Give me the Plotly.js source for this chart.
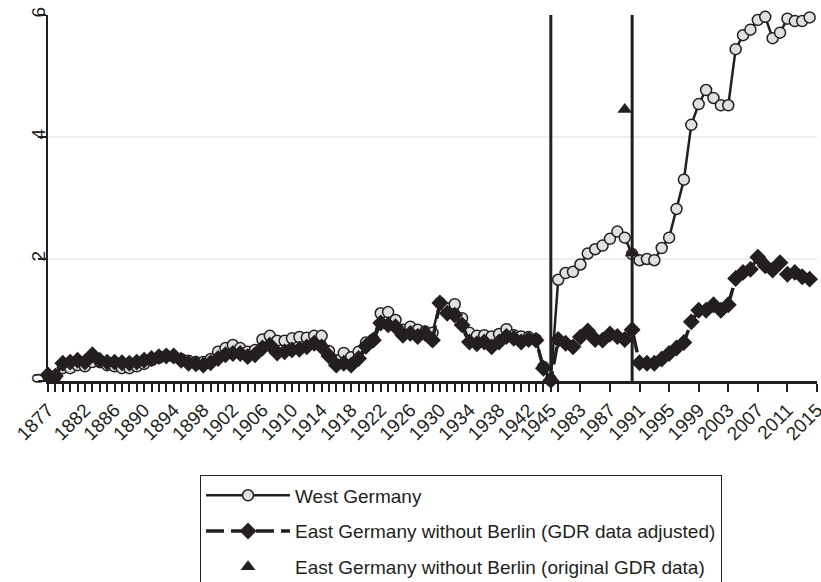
<!DOCTYPE html>
<html><head><meta charset="utf-8">
<script src="https://cdn.plot.ly/plotly-3.0.1.min.js"></script>
<style>html,body{margin:0;padding:0;background:#fff;overflow:hidden}#chart{width:821px;height:600px}</style>
</head><body><div id="chart"></div>
<script>
// Categories: yearly 1877-1945, then 1980-2015 (gap collapsed)
const years = [
 '1877','1878','1879','1880','1881','1882','1883','1884','1885','1886',
 '1887','1888','1889','1890','1891','1892','1893','1894','1895','1896',
 '1897','1898','1899','1900','1901','1902','1903','1904','1905','1906',
 '1907','1908','1909','1910','1911','1912','1913','1914','1915','1916',
 '1917','1918','1919','1920','1921','1922','1923','1924','1925','1926',
 '1927','1928','1929','1930','1931','1932','1933','1934','1935','1936',
 '1937','1938','1939','1940','1941','1942','1943','1944','1945',
 '1980','1981','1982','1983','1984','1985','1986','1987','1988','1989',
 '1990','1991','1992','1993','1994','1995','1996','1997','1998','1999',
 '2000','2001','2002','2003','2004','2005','2006','2007','2008','2009',
 '2010','2011','2012','2013','2014','2015'];

const westGermany = [
 0.08,0.07,0.21,0.21,0.26,0.24,0.31,0.31,0.26,0.24,
 0.21,0.21,0.24,0.28,0.34,0.38,0.41,0.40,0.36,0.33,
 0.31,0.31,0.36,0.48,0.54,0.59,0.54,0.48,0.51,0.68,
 0.74,0.66,0.66,0.70,0.72,0.71,0.74,0.74,0.49,0.34,
 0.46,0.39,0.48,0.63,0.68,1.11,1.13,1.00,0.84,0.89,
 0.84,0.81,0.79,1.28,1.19,1.26,1.03,0.79,0.74,0.75,
 0.73,0.77,0.85,0.75,0.73,0.72,0.68,0.23,0.02,
 1.66,1.77,1.79,1.91,2.09,2.16,2.22,2.33,2.45,2.35,
 2.08,1.98,2.00,1.98,2.18,2.35,2.82,3.30,4.20,4.54,
 4.77,4.64,4.52,4.52,5.44,5.67,5.76,5.92,5.97,5.62,
 5.71,5.94,5.90,5.90,5.96,null];

const eastAdjusted = [
 0.10,0.08,0.29,0.31,0.34,0.31,0.43,0.34,0.31,0.31,
 0.30,0.29,0.31,0.34,0.37,0.40,0.41,0.41,0.34,0.29,
 0.28,0.26,0.30,0.37,0.43,0.45,0.45,0.40,0.43,0.54,
 0.59,0.46,0.48,0.51,0.52,0.56,0.62,0.56,0.41,0.26,
 0.29,0.26,0.37,0.57,0.67,0.95,0.92,0.89,0.75,0.78,
 0.73,0.78,0.67,1.28,1.11,1.08,0.92,0.64,0.61,0.64,
 0.56,0.64,0.73,0.70,0.64,0.68,0.67,0.21,0.01,
 0.68,0.62,0.56,0.72,0.82,0.68,0.67,0.77,0.73,0.68,
 0.84,0.30,0.29,0.29,0.36,0.45,0.54,0.63,0.97,1.16,
 1.16,1.25,1.16,1.25,1.68,1.78,1.83,2.03,1.89,1.82,
 1.94,1.75,1.78,1.71,1.67,null];

const gdrYears = ['1989','1990'];
const gdrOriginal = [4.45, 2.10];

const tickLabels = ['1877','1882','1886','1890','1894','1898','1902','1906','1910','1914',
 '1918','1922','1926','1930','1934','1938','1942','1945',
 '1983','1987','1991','1995','1999','2003','2007','2011','2015'];
const extraTicks = ['1980'];
const markerLines = ['1945','1990'];

const INK = '#231f20';
const early = years.slice(0, years.indexOf('1945') + 1);
const tickvals = years.filter(y => early.includes(y) || extraTicks.includes(y) || tickLabels.includes(y));
const ticktext = tickvals.map(y => tickLabels.includes(y) ? y : '');

const traces = [
 {x: years, y: westGermany, type:'scatter', mode:'lines+markers', name:'West Germany',
  legendgroup:'a', cliponaxis:false,
  line:{color:INK, width:2.5},
  marker:{symbol:'circle', size:11, color:'#e0e0e0', line:{color:INK, width:1.5}}},
 {x: years, y: eastAdjusted, type:'scatter', mode:'lines+markers', name:'East Germany without Berlin (GDR data adjusted)',
  legendgroup:'b', cliponaxis:false,
  line:{color:INK, width:3.5, dash:'18px,7px'},
  marker:{symbol:'diamond', size:13, color:INK, line:{color:INK, width:0}}},
 {x: gdrYears, y: gdrOriginal, type:'scatter', mode:'markers', name:'East Germany without Berlin (original GDR data)',
  legendgroup:'c', cliponaxis:false,
  marker:{symbol:'triangle-up', size:13, color:INK}}
];

const layout = {
 width:821, height:600,
 margin:{l:48, r:4, t:15, b:219},
 paper_bgcolor:'#fff', plot_bgcolor:'#fff',
 font:{family:'"Liberation Sans", Arial, Helvetica, sans-serif', size:19, color:INK},
 showlegend:true,
 xaxis:{type:'category', categoryorder:'array', categoryarray:years, range:[0, years.length-1],
  tickmode:'array', tickvals:tickvals, ticktext:ticktext, tickangle:-45,
  ticks:'outside', ticklen:8, tickwidth:2, tickcolor:INK,
  showline:true, linecolor:INK, linewidth:2.5, showgrid:false, zeroline:false,
  automargin:false, tickfont:{size:19, color:INK}},
 yaxis:{range:[0,6], tickmode:'array', tickvals:[0,2,4,6], tickangle:-90,
  ticks:'outside', ticklen:8, tickwidth:2, tickcolor:INK,
  showline:true, linecolor:INK, linewidth:2.5,
  showgrid:true, gridcolor:'#ededed', gridwidth:2, zeroline:false,
  automargin:false, ticklabelstandoff:-15,
  tickfont:{size:19, color:INK}},
 shapes: markerLines.map(y => ({type:'line', xref:'x', yref:'paper',
  x0: years.indexOf(y), x1: years.indexOf(y), y0:0, y1:1,
  line:{color:INK, width:3}})),
 legend:{x:0.1977, xanchor:'left', y:-0.258, yanchor:'top',
  bordercolor:INK, borderwidth:1, bgcolor:'#fff',
  font:{size:19, color:INK}, itemwidth:84, traceorder:'grouped', tracegroupgap:8}
};

Plotly.newPlot('chart', traces, layout, {displayModeBar:false, staticPlot:true});
</script>
</body></html>
